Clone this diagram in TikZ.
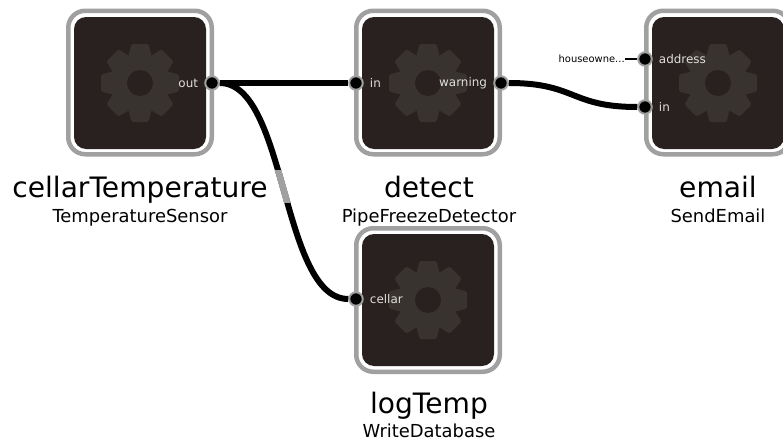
\documentclass[tikz,border=0pt]{standalone}
\usepackage{fontspec}
\setmainfont{DejaVu Sans}
\definecolor{cardfill}{HTML}{282120}
\definecolor{gearfill}{HTML}{38332F}
\definecolor{ringgrey}{HTML}{A0A0A0}
\definecolor{portlabel}{HTML}{E0DEDC}
\tikzset{
	frame/.style={draw=ringgrey,line width=0.09cm,rounded corners=0.34cm,minimum size=2.87cm,inner sep=0},
	body/.style={fill=cardfill,rounded corners=0.24cm,minimum size=2.64cm,inner sep=0},
	port/.style={circle,fill=black,draw=ringgrey,line width=0.04cm,minimum size=0.27cm,inner sep=0,label distance=-0.1cm},
	portname/.style={text=portlabel,font=\fontsize{6.8pt}{8pt}\selectfont},
	title/.style={anchor=base,font=\fontsize{16pt}{18pt}\selectfont},
	subtitle/.style={anchor=base,font=\fontsize{10.2pt}{12pt}\selectfont},
	wire/.style={line width=0.12cm},
}
\newcommand{\gear}[1]{
	\fill[gearfill] (#1) circle (0.58);
	\foreach \a in {0,45,...,315}
		\fill[gearfill,shift={(#1)},rotate=\a,rounded corners=0.03cm] (0.5,-0.24) -- (0.78,-0.17) -- (0.78,0.17) -- (0.5,0.24) -- cycle;
	\fill[cardfill] (#1) circle (0.26);
}
\begin{document}
\begin{tikzpicture}
	\useasboundingbox (0,0) rectangle (15.66,8.82);
	
	\node (cellarFrame)[frame] at (2.8,7.17) {};
	\node (detectFrame)[frame] at (8.56,7.17) {};
	\node (emailFrame)[frame] at (14.36,7.17) {};
	\node (logFrame)[frame] at (8.56,2.82) {};
	\node (cellarBody)[body] at (2.8,7.16) {};
	\node (detectBody)[body] at (8.56,7.16) {};
	\node (emailBody)[body] at (14.36,7.16) {};
	\node (logBody)[body] at (8.56,2.82) {};
	
	\gear{cellarBody.center}
	\gear{detectBody.center}
	\gear{emailBody.center}
	\gear{logBody.center}
	
	\node (out)[port,label={[portname]left:out}] at (4.24,7.16) {};
	\node (in)[port,label={[portname]right:in}] at (7.12,7.16) {};
	\node (warning)[port,label={[portname]left:warning}] at (10.02,7.16) {};
	\node (address)[port,label={[portname]right:address}] at (12.9,7.64) {};
	\node (inmail)[port,label={[portname]right:in}] at (12.9,6.68) {};
	\node (cellar)[port,label={[portname]right:cellar}] at (7.12,2.84) {};
	
	\node (owner)[anchor=east,inner sep=0,font=\fontsize{5.65pt}{7pt}\selectfont] at (12.5,7.64) {houseowne...};
	
	\node (t1)[title] at (2.8,4.88) {cellarTemperature};
	\node (s1)[subtitle] at (2.8,4.38) {TemperatureSensor};
	\node (t2)[title] at (8.58,4.88) {detect};
	\node (s2)[subtitle] at (8.58,4.38) {PipeFreezeDetector};
	\node (t3)[title] at (14.36,4.88) {email};
	\node (s3)[subtitle] at (14.36,4.38) {SendEmail};
	\node (t4)[title] at (8.58,0.56) {logTemp};
	\node (s4)[subtitle] at (8.58,0.07) {WriteDatabase};
	
	\draw[wire] (out)--(in);
	\draw[wire] (out) .. controls +(1.5,0) and +(-1.5,0) .. (cellar);
	\draw[wire] (warning) .. controls +(1.5,0) and +(-1.5,0) .. (inmail);
	\draw[line width=0.04cm] (owner)--(address);
	
	\begin{scope}
		\clip (5,4.78) rectangle (6.2,5.42);
		\draw[line width=0.13cm,color=ringgrey] (out) .. controls +(1.5,0) and +(-1.5,0) .. (cellar);
	\end{scope}
\end{tikzpicture}
\end{document}
